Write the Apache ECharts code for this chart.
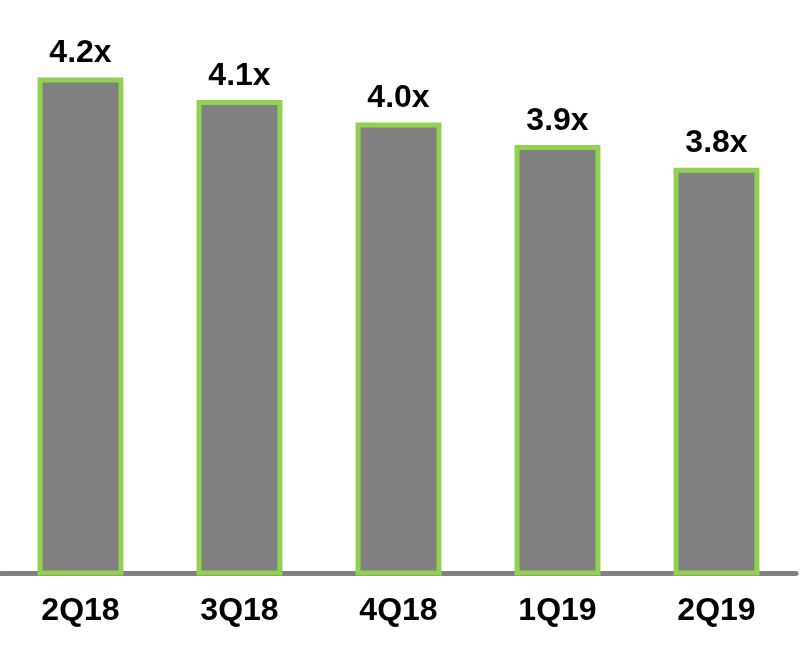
<!DOCTYPE html>
<html><head><meta charset="utf-8">
<script src="https://cdn.jsdelivr.net/npm/echarts@6/dist/echarts.min.js"></script>
<style>html,body{margin:0;padding:0;background:#fff}#c{width:800px;height:660px}</style>
</head><body><div id="c"></div>
<script>
const categories = ['2Q18','3Q18','4Q18','1Q19','2Q19'];
const values = [4.2, 4.1, 4.0, 3.9, 3.8];
const chart = echarts.init(document.getElementById('c'));
chart.setOption({
  animation:false,
  grid:{left:1,right:4,top:10,bottom:87},
  xAxis:{type:'category',data:categories,
    axisLine:{lineStyle:{color:'#808080',width:5}},
    axisTick:{show:false},
    axisLabel:{margin:22,fontSize:32,fontWeight:'bold',color:'#000',fontFamily:'Liberation Sans'}},
  yAxis:{type:'value',min:2,max:4.5,show:false,splitLine:{show:false}},
  series:[{type:'bar',data:values,barWidth:'54%',
    itemStyle:{color:'#808080',borderColor:'#92D050',borderWidth:5},
    label:{show:true,position:'top',distance:8,formatter:p=>p.value.toFixed(1)+'x',
      fontSize:32,fontWeight:'bold',color:'#000',fontFamily:'Liberation Sans'}}]
});
</script></body></html>
